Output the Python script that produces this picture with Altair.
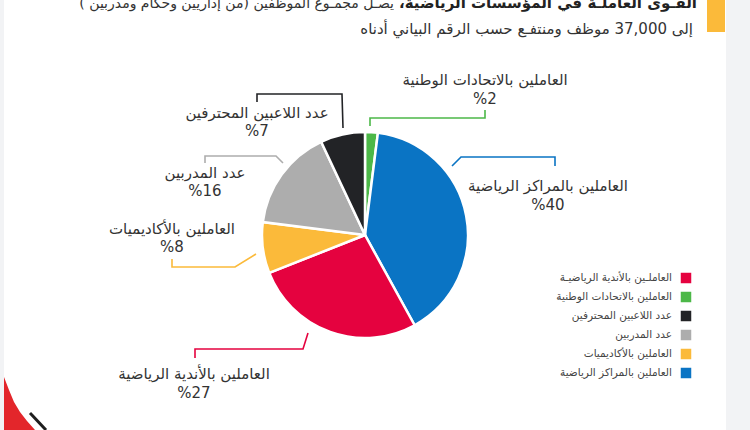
import altair as alt
import pandas as pd

# ---------------- data ----------------
categories = [
    "العاملين بالاتحادات الوطنية",
    "العاملين بالمراكز الرياضية",
    "العاملين بالأندية الرياضية",
    "العاملين بالأكاديميات",
    "عدد المدربين",
    "عدد اللاعبين المحترفين",
]
shares = [2, 40, 27, 8, 16, 7]
colors = ["#4CB848", "#0A74C4", "#E5023F", "#FBBA3A", "#ADADAD", "#222326"]

legend_labels = [
    "العاملـين بالأندية الرياضيـة",
    "العاملين بالاتحادات الوطنية",
    "عدد اللاعبين المحترفين",
    "عدد المدربين",
    "العاملين بالأكاديميات",
    "العاملين بالمراكز الرياضية",
]
legend_cats = [
    "العاملين بالأندية الرياضية",
    "العاملين بالاتحادات الوطنية",
    "عدد اللاعبين المحترفين",
    "عدد المدربين",
    "العاملين بالأكاديميات",
    "العاملين بالمراكز الرياضية",
]

RLM = "\u200f"
title_bold = RLM + "القـوى العاملـة في المؤسسات الرياضية،" + RLM
title_rest = RLM + "يصـل مجمـوع الموظفين (من إداريين وحكام ومدربين )" + RLM
title_line2 = RLM + "إلى 37,000 موظف ومنتفـع حسب الرقم البياني أدناه" + RLM

# ---------------- layout (pixels) ----------------
W, H = 750, 430
CX, CY, R = 365, 235, 103

label_x = [485, 548, 194, 172, 205, 257]
label_y1 = [80, 186, 374, 229, 173, 113]
label_y2 = [99, 205, 393, 247, 191, 131]

leader_paths = [
    [(370, 126), (370, 118), (485, 118), (485, 110)],
    [(452, 166), (461, 157), (555, 157), (555, 166)],
    [(308, 333), (303, 349), (195, 349), (195, 358)],
    [(256, 254), (235, 267), (172, 267), (172, 259)],
    [(283, 163), (276, 156), (205, 156), (205, 163)],
    [(343, 128), (342, 94), (257, 94), (257, 102)],
]

legend_sq_x = 686
legend_txt_x = 672
legend_y = [278, 297, 316, 335, 354, 373]

X = alt.X("x:Q", scale=alt.Scale(domain=[0, W]), axis=None)
Y = alt.Y("y:Q", scale=alt.Scale(domain=[0, H], reverse=True), axis=None)
FONT = "DejaVu Sans"
cscale = alt.Scale(domain=categories, range=colors)

# ---------------- decorations ----------------
deco = pd.DataFrame({
    "x": [726, 0, 707], "x2": [750, 4, 725],
    "y": [0, 0, 0], "y2": [430, 430, 32],
    "c": ["#F2F3F5", "#F2F3F5", "#FBBA3A"],
})
deco_layer = alt.Chart(deco).mark_rect().encode(
    x=X, x2="x2:Q", y=Y, y2="y2:Q", color=alt.Color("c:N", scale=None)
)

corner = pd.DataFrame({
    "y": [377, 390, 402, 412, 421, 430],
    "x": [4, 4, 4, 4, 4, 4],
    "x2": [4, 9, 14, 20, 27, 35],
})
corner_layer = alt.Chart(corner).mark_area(orient="horizontal", color="#E3262B").encode(
    y=Y, x=X, x2="x2:Q"
)
corner_line = alt.Chart(pd.DataFrame({"x": [30, 46], "y": [413, 430]})).mark_line(
    color="#1E1E1E", strokeWidth=3
).encode(x=X, y=Y)

# ---------------- pie ----------------
pie_df = pd.DataFrame({"cat": categories, "share": shares, "k": list(range(len(shares)))})
pie = alt.Chart(pie_df).mark_arc(outerRadius=R, stroke="white", strokeWidth=2.5).encode(
    theta=alt.Theta("share:Q", stack=True),
    color=alt.Color("cat:N", scale=cscale, legend=None),
    order=alt.Order("k:Q"),
    x=alt.value(CX),
    y=alt.value(CY),
)

# ---------------- leader lines ----------------
rows = []
for cat, path in zip(categories, leader_paths):
    for i, (px, py) in enumerate(path):
        rows.append({"cat": cat, "i": i, "x": px, "y": py})
lead = alt.Chart(pd.DataFrame(rows)).mark_line(strokeWidth=1.6).encode(
    x=X, y=Y, order="i:Q", detail="cat:N",
    color=alt.Color("cat:N", scale=cscale, legend=None),
)

# ---------------- labels ----------------
lab_df = pd.DataFrame({
    "cat": categories,
    "pct": ["%" + str(s) for s in shares],
    "x": label_x, "y": label_y1, "y2v": label_y2,
})
lab1 = alt.Chart(lab_df).mark_text(
    font=FONT, fontSize=15, color="#333333", align="center", baseline="middle"
).encode(x=X, y=Y, text="cat:N")
lab2 = alt.Chart(lab_df).mark_text(
    font=FONT, fontSize=15, color="#333333", align="center", baseline="middle"
).encode(x=X, y=alt.Y("y2v:Q", scale=alt.Scale(domain=[0, H], reverse=True), axis=None), text="pct:N")

# ---------------- legend ----------------
leg_df = pd.DataFrame({
    "cat": legend_cats, "lab": legend_labels,
    "x": [legend_sq_x] * 6, "xt": [legend_txt_x] * 6, "y": legend_y,
})
leg_sq = alt.Chart(leg_df).mark_square(size=110, opacity=1).encode(
    x=X, y=Y, color=alt.Color("cat:N", scale=cscale, legend=None)
)
leg_tx = alt.Chart(leg_df).mark_text(
    font=FONT, fontSize=10.5, color="#444444", align="right", baseline="middle"
).encode(x=alt.X("xt:Q", scale=alt.Scale(domain=[0, W]), axis=None), y=Y, text="lab:N")

# ---------------- header ----------------
head_df = pd.DataFrame({
    "t": [title_bold, title_rest, title_line2],
    "x": [697, 394, 693],
    "y": [8, 8, 34],
})
head_b = alt.Chart(head_df.iloc[[0]]).mark_text(
    font=FONT, fontSize=15, fontWeight="bold", color="#222222", align="right", baseline="alphabetic"
).encode(x=X, y=Y, text="t:N")
head_r = alt.Chart(head_df.iloc[[1]]).mark_text(
    font=FONT, fontSize=14, color="#333333", align="right", baseline="alphabetic"
).encode(x=X, y=Y, text="t:N")
head_2 = alt.Chart(head_df.iloc[[2]]).mark_text(
    font=FONT, fontSize=15, color="#333333", align="right", baseline="alphabetic"
).encode(x=X, y=Y, text="t:N")

chart = alt.layer(
    deco_layer, corner_layer, corner_line, pie, lead, lab1, lab2, leg_sq, leg_tx, head_b, head_r, head_2
).properties(
    width=W, height=H, autosize=alt.AutoSizeParams(type="none"), padding=0, background="white"
).configure_view(stroke=None)

chart.save("out.html", embed_options={"renderer": "svg", "actions": False})
